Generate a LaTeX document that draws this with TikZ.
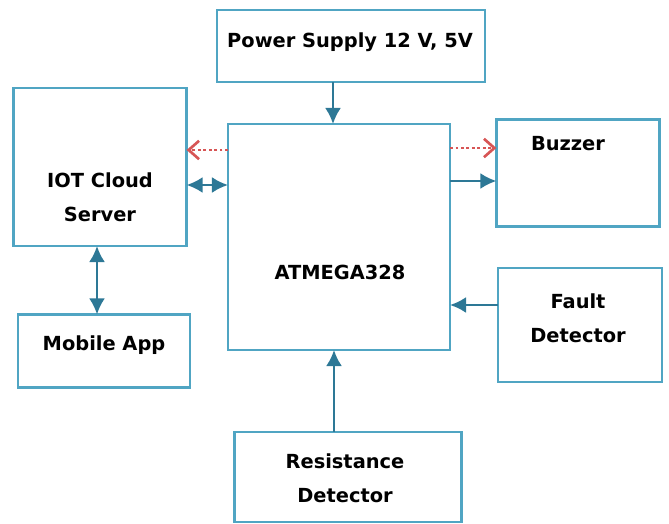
\documentclass[tikz,border=0pt]{standalone}
\usepackage{fontspec}
\setmainfont{DejaVu Sans}
\usepackage{xcolor}
\usetikzlibrary{arrows.meta, positioning}

\definecolor{boxblue}{RGB}{80,165,195}
\definecolor{arrowteal}{RGB}{45,120,150}
\definecolor{dotred}{RGB}{215,85,85}

\tikzset{
    box/.style={draw=boxblue, line width=2pt, outer sep=0pt, minimum width=#1},
    lbl/.style={font=\fontsize{13.8}{24}\selectfont\bfseries, align=center, inner sep=0pt},
    link/.style={draw=arrowteal, line width=1.7pt, -{Latex[length=4mm, width=4mm]}},
    twoway/.style={link, {Latex[length=4mm, width=4mm]}-{Latex[length=4mm, width=4mm]}},
    signal/.style={draw=dotred, line width=1.9pt, dotted, -{Straight Barb[length=2.6mm, width=4.6mm]}}
}

\begin{document}
\begin{tikzpicture}[x=0.025cm, y=-0.025cm]
    \useasboundingbox (0,0) rectangle (669,524);

    % Blocks
    \node[box=6.7cm, minimum height=1.8cm] (power) at (351,46) {};
    \node[box=4.33cm, minimum height=3.95cm] (cloud) at (100,167) {};
    \node[box=5.55cm, minimum height=5.65cm] (atm) at (339,237) {};
    \node[box=4.08cm, minimum height=2.68cm] (buzzer) at (578,173) {};
    \node[box=4.3cm, minimum height=1.83cm] (app) at (104,351) {};
    \node[box=4.1cm, minimum height=2.85cm] (fault) at (580,325) {};
    \node[box=5.68cm, minimum height=2.25cm] (res) at (348,477) {};

    % Labels
    \node[lbl] (powertext) at (350,42) {Power Supply 12 V, 5V};
    \node[lbl] (cloudtext) at (100,197) {IOT Cloud\\Server};
    \node[lbl] (atmtext) at (340,272) {ATMEGA328};
    \node[lbl] (buzzertext) at (568,144) {Buzzer};
    \node[lbl] (apptext) at (104,345) {Mobile App};
    \node[lbl] (faulttext) at (578,318) {Fault\\Detector};
    \node[lbl] (restext) at (345,478) {Resistance\\Detector};

    % Connections
    \draw[link] (power.south -| 333,0) -- (atm.north -| 333,0);
    \draw[twoway] (cloud.east |- 0,185) -- (atm.west |- 0,185);
    \draw[signal] (atm.west |- 0,150) -- (cloud.east |- 0,150);
    \draw[signal] (atm.east |- 0,148) -- (buzzer.west |- 0,148);
    \draw[link] (atm.east |- 0,181) -- (buzzer.west |- 0,181);
    \draw[link] (fault.west |- 0,305) -- (atm.east |- 0,305);
    \draw[twoway] (cloud.south -| 97,0) -- (app.north -| 97,0);
    \draw[link] (res.north -| 334,0) -- (atm.south -| 334,0);
\end{tikzpicture}
\end{document}
